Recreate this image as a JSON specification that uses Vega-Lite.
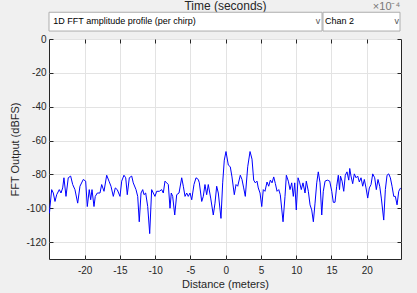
{
  "$schema": "https://vega.github.io/schema/vega-lite/v6.json",
  "width": 352,
  "height": 220,
  "autosize": "none",
  "padding": {"left": 49, "top": 39, "right": 16, "bottom": 34},
  "background": "#f0f0f0",
  "view": {"fill": "white", "stroke": "#262626", "strokeWidth": 1},
  "config": {
    "font": "Liberation Sans",
    "axis": {
      "domain": false,
      "labelColor": "#262626",
      "labelFontSize": 10,
      "labelFont": "Liberation Sans",
      "titleColor": "#262626",
      "titleFont": "Liberation Sans",
      "titleFontWeight": "normal",
      "titleFontSize": 11,
      "tickColor": "#262626",
      "tickSize": -4,
      "gridColor": "#e3e3e3",
      "gridOpacity": 1
    }
  },
  "datasets": {
    "fft": [
      {"d": -25.0, "v": -103}, {"d": -24.92, "v": -99}, {"d": -24.68, "v": -89}, {"d": -24.45, "v": -91},
      {"d": -24.21, "v": -96}, {"d": -23.97, "v": -92}, {"d": -23.6, "v": -89}, {"d": -23.36, "v": -91},
      {"d": -23.12, "v": -88}, {"d": -22.94, "v": -82}, {"d": -22.65, "v": -93}, {"d": -22.33, "v": -82},
      {"d": -21.99, "v": -81}, {"d": -21.7, "v": -86}, {"d": -21.38, "v": -89}, {"d": -20.99, "v": -97},
      {"d": -20.67, "v": -87}, {"d": -20.2, "v": -83}, {"d": -19.86, "v": -84}, {"d": -19.63, "v": -99},
      {"d": -19.35, "v": -89}, {"d": -19.15, "v": -95}, {"d": -18.96, "v": -89}, {"d": -18.68, "v": -99},
      {"d": -18.5, "v": -93}, {"d": -18.21, "v": -91}, {"d": -17.83, "v": -91}, {"d": -17.59, "v": -86},
      {"d": -17.26, "v": -90}, {"d": -16.88, "v": -80.5}, {"d": -16.55, "v": -84}, {"d": -16.27, "v": -87},
      {"d": -15.94, "v": -93}, {"d": -15.66, "v": -88}, {"d": -15.38, "v": -89}, {"d": -14.99, "v": -93},
      {"d": -14.75, "v": -84}, {"d": -14.43, "v": -80.5}, {"d": -14.18, "v": -82}, {"d": -13.96, "v": -92},
      {"d": -13.67, "v": -82}, {"d": -13.33, "v": -81}, {"d": -13.11, "v": -85}, {"d": -12.72, "v": -89},
      {"d": -12.48, "v": -93}, {"d": -12.26, "v": -108}, {"d": -12.01, "v": -91}, {"d": -11.77, "v": -89},
      {"d": -11.59, "v": -92}, {"d": -11.35, "v": -91}, {"d": -11.06, "v": -99}, {"d": -10.78, "v": -115},
      {"d": -10.5, "v": -89}, {"d": -10.27, "v": -91}, {"d": -10.03, "v": -93}, {"d": -9.79, "v": -90},
      {"d": -9.42, "v": -90}, {"d": -9.08, "v": -89}, {"d": -8.85, "v": -91}, {"d": -8.61, "v": -84},
      {"d": -8.37, "v": -85}, {"d": -8.14, "v": -86}, {"d": -7.9, "v": -100}, {"d": -7.72, "v": -91},
      {"d": -7.52, "v": -93}, {"d": -7.23, "v": -104}, {"d": -6.95, "v": -92}, {"d": -6.62, "v": -91},
      {"d": -6.24, "v": -82}, {"d": -6.01, "v": -87}, {"d": -5.77, "v": -93}, {"d": -5.53, "v": -91},
      {"d": -5.31, "v": -93}, {"d": -5.06, "v": -91}, {"d": -4.82, "v": -95}, {"d": -4.5, "v": -86},
      {"d": -4.21, "v": -82}, {"d": -3.89, "v": -83}, {"d": -3.74, "v": -85}, {"d": -3.4, "v": -96},
      {"d": -3.18, "v": -93}, {"d": -2.94, "v": -86}, {"d": -2.7, "v": -92}, {"d": -2.47, "v": -86},
      {"d": -2.13, "v": -94}, {"d": -1.76, "v": -104}, {"d": -1.52, "v": -97}, {"d": -1.28, "v": -87},
      {"d": -1.05, "v": -91}, {"d": -0.67, "v": -106}, {"d": -0.43, "v": -85}, {"d": -0.2, "v": -71.6},
      {"d": 0.04, "v": -66.5}, {"d": 0.37, "v": -74.5}, {"d": 0.65, "v": -75.5}, {"d": 0.89, "v": -81.5},
      {"d": 1.22, "v": -92}, {"d": 1.46, "v": -86}, {"d": 1.7, "v": -87}, {"d": 2.07, "v": -80.5},
      {"d": 2.31, "v": -83}, {"d": 2.55, "v": -88}, {"d": 2.78, "v": -93}, {"d": 3.12, "v": -75.5},
      {"d": 3.45, "v": -66.5}, {"d": 3.73, "v": -71}, {"d": 3.97, "v": -83.4}, {"d": 4.2, "v": -85},
      {"d": 4.44, "v": -84}, {"d": 4.62, "v": -88}, {"d": 4.87, "v": -91}, {"d": 5.11, "v": -99},
      {"d": 5.33, "v": -89}, {"d": 5.57, "v": -90}, {"d": 5.86, "v": -84.5}, {"d": 6.1, "v": -87},
      {"d": 6.33, "v": -83.4}, {"d": 6.57, "v": -85}, {"d": 6.81, "v": -81.5}, {"d": 7.04, "v": -85.4},
      {"d": 7.28, "v": -90}, {"d": 7.52, "v": -89}, {"d": 7.74, "v": -92}, {"d": 8.13, "v": -108},
      {"d": 8.41, "v": -93}, {"d": 8.6, "v": -80.5}, {"d": 8.88, "v": -84}, {"d": 9.12, "v": -89},
      {"d": 9.36, "v": -85}, {"d": 9.59, "v": -93}, {"d": 9.79, "v": -85}, {"d": 10.01, "v": -101},
      {"d": 10.26, "v": -82}, {"d": 10.5, "v": -85}, {"d": 10.72, "v": -89}, {"d": 10.96, "v": -85},
      {"d": 11.25, "v": -91}, {"d": 11.43, "v": -84}, {"d": 11.72, "v": -90}, {"d": 11.96, "v": -98},
      {"d": 12.2, "v": -101}, {"d": 12.43, "v": -108}, {"d": 12.67, "v": -97}, {"d": 12.91, "v": -85},
      {"d": 13.13, "v": -78.5}, {"d": 13.38, "v": -85}, {"d": 13.62, "v": -104}, {"d": 13.84, "v": -90},
      {"d": 14.09, "v": -84}, {"d": 14.41, "v": -83.4}, {"d": 14.75, "v": -84}, {"d": 15.04, "v": -90},
      {"d": 15.26, "v": -96.5}, {"d": 15.5, "v": -96.5}, {"d": 15.74, "v": -87}, {"d": 15.97, "v": -80.5},
      {"d": 16.14, "v": -89}, {"d": 16.28, "v": -81}, {"d": 16.5, "v": -84}, {"d": 16.74, "v": -90},
      {"d": 16.96, "v": -80.5}, {"d": 17.2, "v": -78.5}, {"d": 17.45, "v": -83.4}, {"d": 17.59, "v": -76.5},
      {"d": 17.77, "v": -81}, {"d": 18.01, "v": -85.5}, {"d": 18.24, "v": -79.7}, {"d": 18.48, "v": -82},
      {"d": 18.72, "v": -81}, {"d": 18.95, "v": -84.5}, {"d": 19.19, "v": -82}, {"d": 19.43, "v": -87},
      {"d": 19.66, "v": -83}, {"d": 19.9, "v": -88}, {"d": 20.14, "v": -94}, {"d": 20.37, "v": -88},
      {"d": 20.61, "v": -86}, {"d": 20.85, "v": -79.7}, {"d": 21.13, "v": -82}, {"d": 21.36, "v": -89},
      {"d": 21.6, "v": -83}, {"d": 21.84, "v": -87}, {"d": 22.07, "v": -94}, {"d": 22.41, "v": -107},
      {"d": 22.64, "v": -89}, {"d": 22.88, "v": -80.5}, {"d": 23.12, "v": -79.7}, {"d": 23.35, "v": -82},
      {"d": 23.59, "v": -87}, {"d": 23.83, "v": -93}, {"d": 24.06, "v": -93}, {"d": 24.3, "v": -98},
      {"d": 24.54, "v": -90}, {"d": 24.8, "v": -88}
    ],
    "boxes": [
      {"x1": -25.06, "x2": 13.66, "y1": 4.7, "y2": 15.8},
      {"x1": 13.8, "x2": 24.72, "y1": 4.7, "y2": 15.8}
    ],
    "menus": [
      {"x": -24.45, "y": 10.4, "t": "1D FFT amplitude profile (per chirp)"},
      {"x": 14.09, "y": 10.4, "t": "Chan 2"}
    ],
    "chevrons": [
      {"x": 13.1, "y": 10.4, "t": "v"},
      {"x": 24.25, "y": 10.4, "t": "v"}
    ],
    "exponent": [
      {"x": 24.75, "y": 19.1, "t": "×10⁻⁴"}
    ]
  },
  "layer": [
    {
      "data": {"name": "fft"},
      "mark": {"type": "line", "color": "#0000ff", "strokeWidth": 1, "clip": true},
      "encoding": {
        "x": {
          "field": "d", "type": "quantitative",
          "scale": {"domain": [-25.06, 24.86], "nice": false, "zero": false},
          "axis": {
            "orient": "bottom", "values": [-20, -15, -10, -5, 0, 5, 10, 15, 20],
            "labelExpr": "datum.value + ''",
            "grid": true, "labelPadding": 10, "title": "Distance (meters)", "titlePadding": 3
          }
        },
        "y": {
          "field": "v", "type": "quantitative",
          "scale": {"domain": [-130, 0], "nice": false, "zero": false},
          "axis": {
            "orient": "left", "values": [-120, -100, -80, -60, -40, -20, 0],
            "labelExpr": "datum.value + ''",
            "grid": true, "labelPadding": 7, "title": "FFT Output (dBFS)", "titlePadding": 5
          }
        }
      }
    },
    {
      "data": {"name": "boxes"},
      "mark": {"type": "rect", "fill": "white", "stroke": "#adadad", "strokeWidth": 1, "clip": false},
      "encoding": {
        "x": {
          "field": "x1", "type": "quantitative",
          "axis": {
            "orient": "top", "values": [-20, -15, -10, -5, 0, 5, 10, 15, 20],
            "grid": false, "labels": false, "title": "Time (seconds)", "titleFontSize": 12, "titlePadding": 26
          }
        },
        "x2": {"field": "x2"},
        "y": {
          "field": "y1", "type": "quantitative",
          "axis": {
            "orient": "right", "values": [-120, -100, -80, -60, -40, -20, 0],
            "grid": false, "labels": false, "title": null
          }
        },
        "y2": {"field": "y2"}
      }
    },
    {
      "data": {"name": "menus"},
      "mark": {"type": "text", "align": "left", "baseline": "middle", "fontSize": 9, "color": "#000000", "clip": false},
      "encoding": {
        "x": {"field": "x", "type": "quantitative", "axis": null},
        "y": {"field": "y", "type": "quantitative", "axis": null},
        "text": {"field": "t"}
      }
    },
    {
      "data": {"name": "chevrons"},
      "mark": {"type": "text", "align": "center", "baseline": "middle", "fontSize": 9, "color": "#555555", "clip": false},
      "encoding": {
        "x": {"field": "x", "type": "quantitative", "axis": null},
        "y": {"field": "y", "type": "quantitative", "axis": null},
        "text": {"field": "t"}
      }
    },
    {
      "data": {"name": "exponent"},
      "mark": {"type": "text", "align": "right", "baseline": "middle", "fontSize": 11, "color": "#777777", "clip": false},
      "encoding": {
        "x": {"field": "x", "type": "quantitative", "axis": null},
        "y": {"field": "y", "type": "quantitative", "axis": null},
        "text": {"field": "t"}
      }
    }
  ],
  "resolve": {"axis": {"x": "independent", "y": "independent"}}
}
